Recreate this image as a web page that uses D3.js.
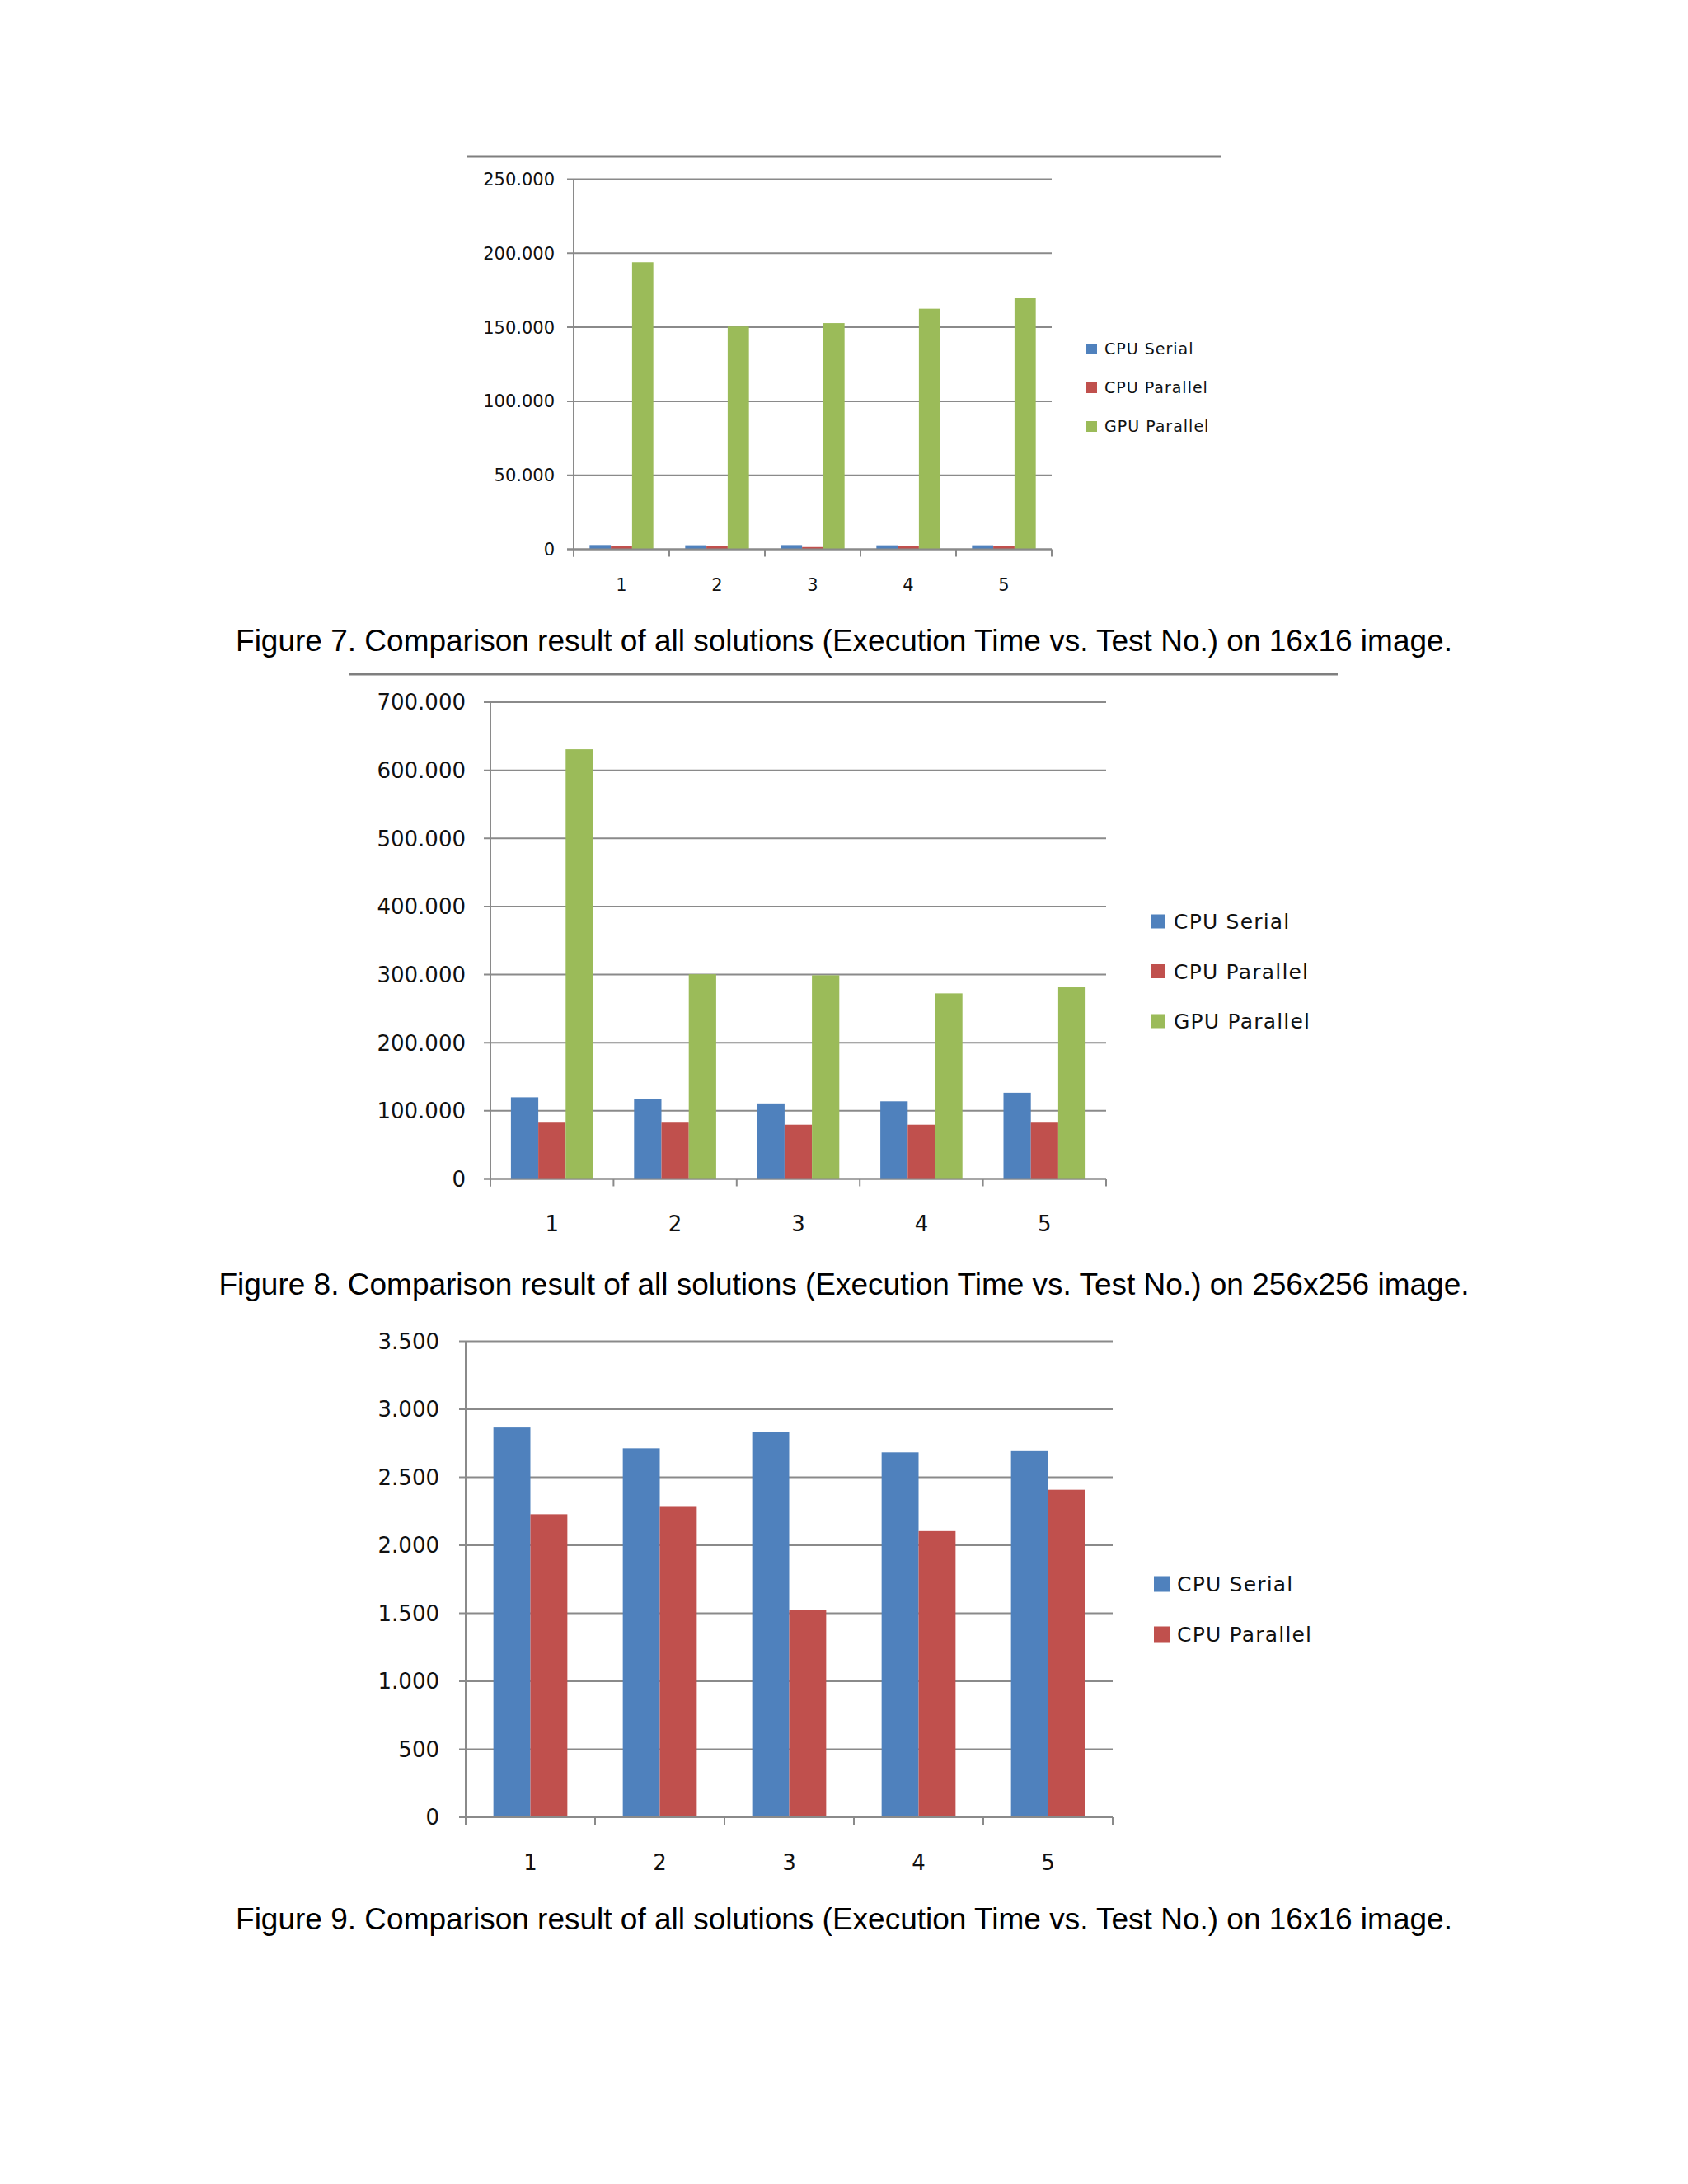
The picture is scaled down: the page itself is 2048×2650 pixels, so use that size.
<!DOCTYPE html>
<html lang="en">
<head>
    <meta charset="UTF-8">
    <script src="https://d3js.org/d3.v7.min.js"></script>
    <title>Execution Time vs. Test No.</title>
    <style>
        body { margin: 0; background: #fff; }
        svg { display: block; }
    </style>
</head>
<body>
    <div id="page"></div>

    <script type="text/javascript">
        // data (execution time per test run)
        const testNos = ["1", "2", "3", "4", "5"];
        const seriesNames = ["CPU Serial", "CPU Parallel", "GPU Parallel"];
        const seriesColors = ["#4f81bd", "#c0504d", "#9bbb59"];

        const fig7Serial = [2866, 2713, 2834, 2683, 2698];
        const fig7Parallel = [2228, 2288, 1525, 2104, 2408];
        const fig7Gpu = [193900, 150500, 152800, 162500, 169800];
        const fig7Ticks = [0, 50000, 100000, 150000, 200000, 250000];

        const fig8Serial = [119900, 116900, 110900, 114000, 126600];
        const fig8Parallel = [82600, 82600, 79600, 79600, 82600];
        const fig8Gpu = [630900, 300500, 299000, 272400, 281300];
        const fig8Ticks = [0, 100000, 200000, 300000, 400000, 500000, 600000, 700000];

        const fig9Serial = [2866, 2713, 2834, 2683, 2698];
        const fig9Parallel = [2228, 2288, 1525, 2104, 2408];
        const fig9Ticks = [0, 500, 1000, 1500, 2000, 2500, 3000, 3500];

        const captions = [
            "Figure 7. Comparison result of all solutions (Execution Time vs. Test No.) on 16x16 image.",
            "Figure 8. Comparison result of all solutions (Execution Time vs. Test No.) on 256x256 image.",
            "Figure 9. Comparison result of all solutions (Execution Time vs. Test No.) on 16x16 image."
        ];

        const width = 2048;
        const height = 2650;
        const gridColor = "#8a8a8a";
        const tickFont = "'DejaVu Sans', sans-serif";

        // european style thousands separator, as in the original axis labels
        const fmt = d3.formatLocale({ decimal: ",", thousands: ".", grouping: [3], currency: ["", ""] }).format(",d");

        const svg = d3.select("#page")
            .append("svg")
            .attr("width", width)
            .attr("height", height);

        svg.append("rect")
            .attr("width", width)
            .attr("height", height)
            .attr("fill", "#fff");

        function drawChart(opt) {
            const names = seriesNames.slice(0, opt.series.length);

            const x = d3.scaleBand()
                .domain(testNos)
                .range([opt.left, opt.right])
                .padding(0);

            // excel style 150% gap width
            const xs = d3.scaleBand()
                .domain(names)
                .range([0, x.bandwidth()])
                .paddingInner(0)
                .paddingOuter(0.75);

            const y = d3.scaleLinear()
                .domain([0, d3.max(opt.ticks)])
                .range([opt.bottom, opt.top]);

            const g = svg.append("g");

            // gridlines + outside tick marks
            g.selectAll(".grid")
                .data(opt.ticks)
                .enter()
                .append("line")
                .attr("x1", opt.left - 8)
                .attr("x2", opt.right)
                .attr("y1", d => y(d))
                .attr("y2", d => y(d))
                .attr("stroke", gridColor)
                .attr("stroke-width", 2);

            g.selectAll(".ylab")
                .data(opt.ticks)
                .enter()
                .append("text")
                .attr("x", opt.labelRight)
                .attr("y", d => y(d))
                .attr("dy", "0.36em")
                .attr("text-anchor", "end")
                .style("font-family", tickFont)
                .style("font-size", opt.fontSize + "px")
                .style("fill", "#111")
                .text(d => fmt(d));

            // bars
            opt.series.forEach((vals, si) => {
                g.selectAll(".bar-" + si)
                    .data(vals)
                    .enter()
                    .append("rect")
                    .attr("x", (d, i) => x(testNos[i]) + xs(names[si]))
                    .attr("y", d => y(d))
                    .attr("width", xs.bandwidth())
                    .attr("height", d => opt.bottom - y(d))
                    .attr("fill", seriesColors[si]);
            });

            // axes
            g.append("line")
                .attr("x1", opt.left).attr("x2", opt.left)
                .attr("y1", opt.top).attr("y2", opt.bottom + 9)
                .attr("stroke", gridColor).attr("stroke-width", 2);

            g.append("line")
                .attr("x1", opt.left - 8).attr("x2", opt.right)
                .attr("y1", opt.bottom).attr("y2", opt.bottom)
                .attr("stroke", gridColor).attr("stroke-width", 2);

            const bounds = testNos.map(d => x(d)).concat([opt.right]);
            g.selectAll(".xtick")
                .data(bounds)
                .enter()
                .append("line")
                .attr("x1", d => d).attr("x2", d => d)
                .attr("y1", opt.bottom).attr("y2", opt.bottom + 9)
                .attr("stroke", gridColor).attr("stroke-width", 2);

            g.selectAll(".xlab")
                .data(testNos)
                .enter()
                .append("text")
                .attr("x", d => x(d) + x.bandwidth() / 2)
                .attr("y", opt.xLabelY)
                .attr("dy", "0.36em")
                .attr("text-anchor", "middle")
                .style("font-family", tickFont)
                .style("font-size", opt.fontSize + "px")
                .style("fill", "#111")
                .text(d => d);

            // legend
            const leg = g.selectAll(".legend")
                .data(names)
                .enter()
                .append("g")
                .attr("transform", (d, i) => `translate(${opt.legendX}, ${opt.legendY + i * opt.legendStep})`);

            leg.append("rect")
                .attr("x", 0)
                .attr("y", -opt.legendBox / 2)
                .attr("width", opt.legendBox)
                .attr("height", opt.legendBox)
                .attr("fill", (d, i) => seriesColors[i]);

            leg.append("text")
                .attr("x", opt.legendTextX)
                .attr("dy", "0.36em")
                .style("font-family", tickFont)
                .style("font-size", opt.legendFont + "px")
                .style("letter-spacing", opt.legendSpacing + "px")
                .style("fill", "#111")
                .text(d => d);

            // caption
            svg.append("text")
                .attr("x", width / 2)
                .attr("y", opt.captionY)
                .attr("text-anchor", "middle")
                .style("font-family", "'Liberation Sans', Arial, sans-serif")
                .style("font-size", "37px")
                .style("fill", "#000")
                .text(opt.caption);

            if (opt.rule) {
                svg.append("line")
                    .attr("x1", opt.rule[0]).attr("x2", opt.rule[1])
                    .attr("y1", opt.rule[2]).attr("y2", opt.rule[2])
                    .attr("stroke", "#7f7f7f").attr("stroke-width", 3);
            }
        }

        drawChart({
            series: [fig7Serial, fig7Parallel, fig7Gpu],
            ticks: fig7Ticks,
            left: 696, right: 1276, top: 217.5, bottom: 666.5,
            labelRight: 673, xLabelY: 709, fontSize: 21,
            legendX: 1318, legendY: 423.5, legendStep: 47, legendBox: 13,
            legendTextX: 22, legendFont: 19, legendSpacing: 1,
            caption: captions[0], captionY: 790,
            rule: [567, 1481, 190]
        });

        drawChart({
            series: [fig8Serial, fig8Parallel, fig8Gpu],
            ticks: fig8Ticks,
            left: 595, right: 1342, top: 852, bottom: 1430.5,
            labelRight: 565, xLabelY: 1485, fontSize: 26,
            legendX: 1396, legendY: 1118, legendStep: 60.5, legendBox: 17,
            legendTextX: 28, legendFont: 25, legendSpacing: 1.2,
            caption: captions[1], captionY: 1571,
            rule: [424, 1623, 818]
        });

        drawChart({
            series: [fig9Serial, fig9Parallel],
            ticks: fig9Ticks,
            left: 565, right: 1350, top: 1627.5, bottom: 2205,
            labelRight: 533, xLabelY: 2259.5, fontSize: 26,
            legendX: 1400, legendY: 1922, legendStep: 61, legendBox: 19,
            legendTextX: 28, legendFont: 25, legendSpacing: 1.2,
            caption: captions[2], captionY: 2341,
            rule: null
        });
    </script>
</body>
</html>
